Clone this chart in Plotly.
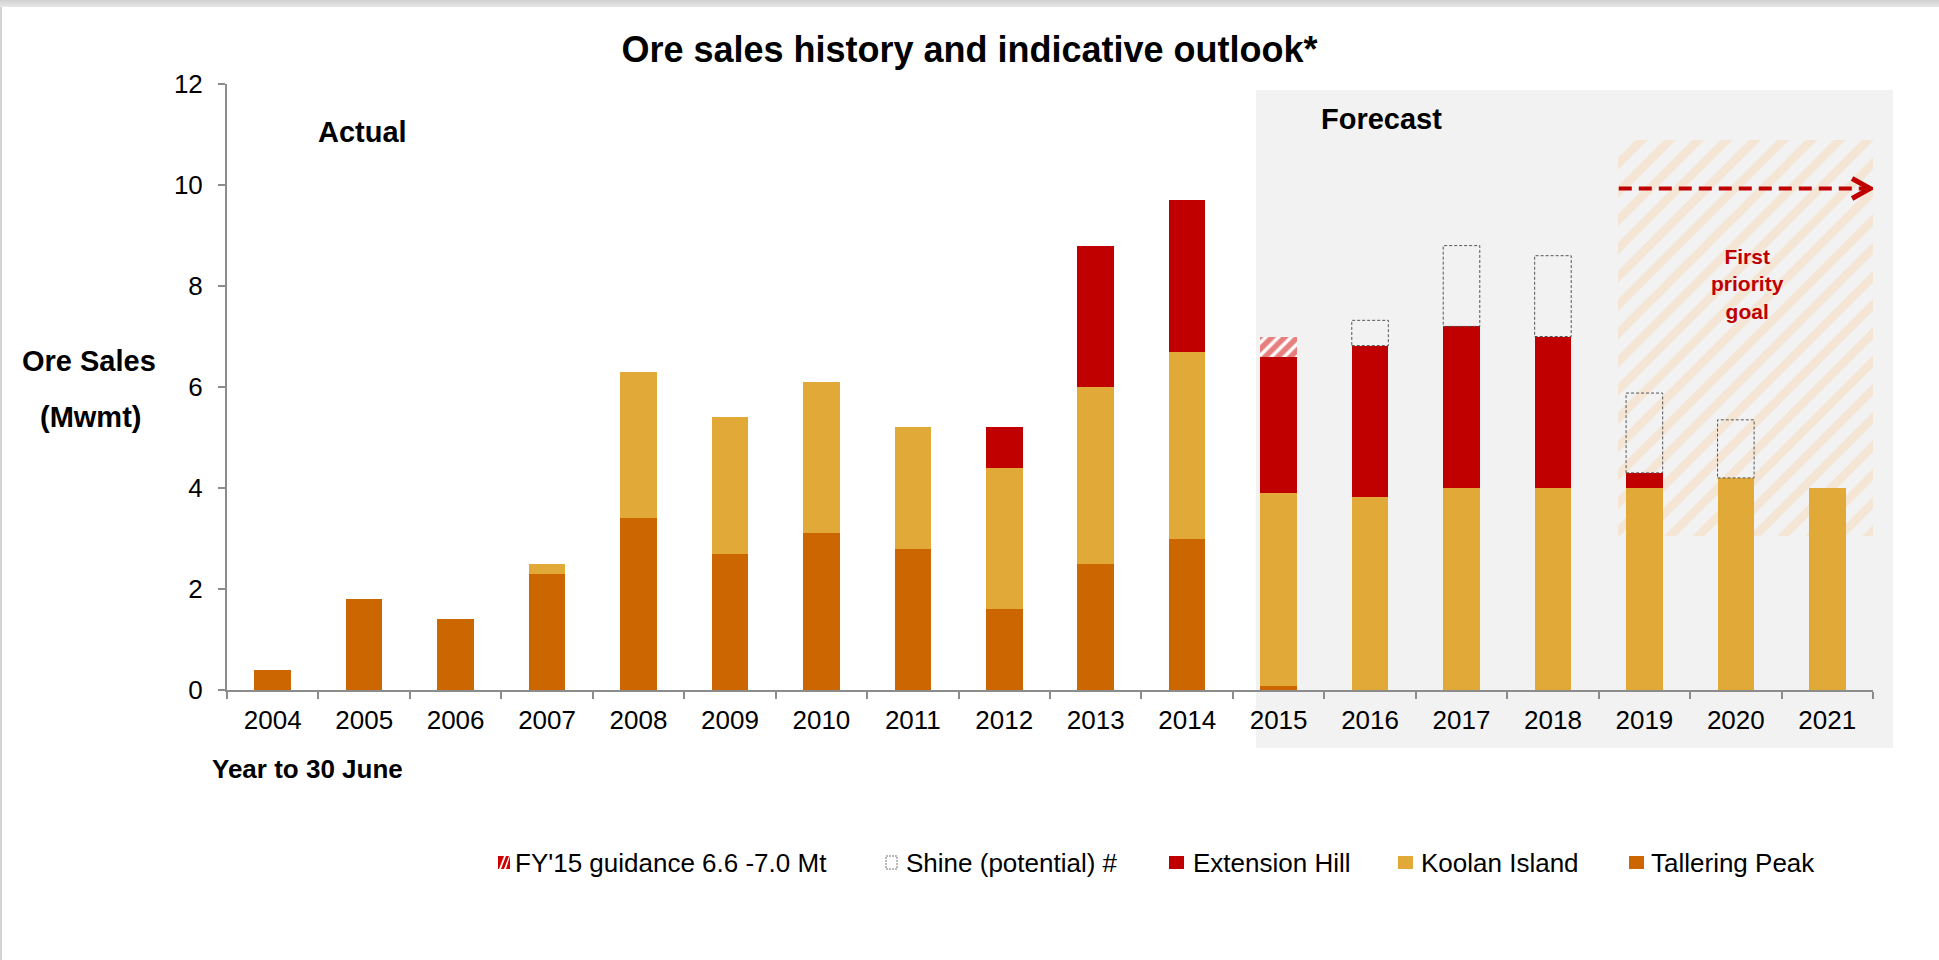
import plotly.graph_objects as go

# ---------------- data ----------------
years = ["2004", "2005", "2006", "2007", "2008", "2009", "2010", "2011", "2012",
         "2013", "2014", "2015", "2016", "2017", "2018", "2019", "2020", "2021"]
tallering_peak = [0.4, 1.8, 1.4, 2.3, 3.4, 2.7, 3.1, 2.8, 1.6, 2.5, 3.0, 0.08,
                  0, 0, 0, 0, 0, 0]
koolan_island = [0, 0, 0, 0.2, 2.9, 2.7, 3.0, 2.4, 2.8, 3.5, 3.7, 3.82,
                 3.82, 4.0, 4.0, 4.0, 4.2, 4.0]
extension_hill = [0, 0, 0, 0, 0, 0, 0, 0, 0.8, 2.8, 3.0, 2.7,
                  3.0, 3.2, 3.0, 0.3, 0, 0]
fy15_guidance = [0, 0, 0, 0, 0, 0, 0, 0, 0, 0, 0, 0.4,
                 0, 0, 0, 0, 0, 0]
shine_potential = [0, 0, 0, 0, 0, 0, 0, 0, 0, 0, 0, 0,
                   0.5, 1.6, 1.6, 1.58, 1.15, 0]

goal_band_low, goal_band_high = 3.04, 10.9       # "First priority goal" band (Mwmt)
goal_arrow_level = 9.93

# ---------------- styling ----------------
FONT = "Liberation Sans, Arial, sans-serif"
C_TALL = "#cc6600"
C_KOOL = "#e1a938"
C_EXT = "#c00000"
C_HATCH = "#f5d8b6"
W, H = 1939, 960
ML, MT, MR, MB = 227, 84, 66, 270
PW, PH = W - ML - MR, H - MT - MB


def px(x):
    return (x - ML) / PW


def py(y):
    return (MT + PH - y) / PH


def nz(v):
    return [a if a else None for a in v]


fig = go.Figure()

# goal band (hatched), drawn first so it sits behind the bars
fig.add_trace(go.Bar(
    x=["2020"], y=[goal_band_high - goal_band_low], base=[goal_band_low],
    width=[2.79], offset=[-1.29],
    marker=dict(color="rgba(0,0,0,0)", line=dict(width=0),
                pattern=dict(shape="/", fgcolor=C_HATCH, bgcolor="rgba(0,0,0,0)",
                             size=20, solidity=0.42)),
    hoverinfo="skip", showlegend=False))

fig.add_trace(go.Bar(name="Tallering Peak", x=years, y=nz(tallering_peak),
                     marker=dict(color=C_TALL, line=dict(width=0))))
fig.add_trace(go.Bar(name="Koolan Island", x=years, y=nz(koolan_island),
                     marker=dict(color=C_KOOL, line=dict(width=0))))
fig.add_trace(go.Bar(name="Extension Hill", x=years, y=nz(extension_hill),
                     marker=dict(color=C_EXT, line=dict(width=0))))
fig.add_trace(go.Bar(name="FY'15 guidance 6.6 -7.0 Mt", x=years, y=nz(fy15_guidance),
                     marker=dict(color="white", line=dict(width=0),
                                 pattern=dict(shape="/", fgcolor="#d00000", bgcolor="white",
                                              size=9, solidity=0.62))))
fig.add_trace(go.Bar(name="Shine (potential) #", x=years, y=nz(shine_potential),
                     marker=dict(color="rgba(0,0,0,0)", line=dict(width=0))))

shapes = []
# top slide shading and left border
shades = ["#d2d2d2", "#d6d6d6", "#d9d9d9", "#dcdcdc", "#dfdfdf", "#e2e2e2", "#e6e6e6"]
for i, c in enumerate(shades):
    shapes.append(dict(type="rect", xref="paper", yref="paper", layer="below",
                       x0=px(0), x1=px(W), y0=py(i), y1=py(i + 1),
                       fillcolor=c, line=dict(width=0)))
shapes.append(dict(type="rect", xref="paper", yref="paper", layer="below",
                   x0=px(0), x1=px(2), y0=py(7), y1=py(H),
                   fillcolor="#d4d4d4", line=dict(width=0)))
# forecast panel
shapes.append(dict(type="rect", xref="paper", yref="paper", layer="below",
                   x0=px(1256), x1=px(1893), y0=py(748), y1=py(90),
                   fillcolor="#f2f2f2", line=dict(width=0)))

# dashed outlines for Shine (potential)
for i, s in enumerate(shine_potential):
    if s:
        b = tallering_peak[i] + koolan_island[i] + extension_hill[i] + fy15_guidance[i]
        shapes.append(dict(type="rect", xref="x", yref="y", layer="above",
                           x0=i - 0.2, x1=i + 0.2, y0=b, y1=b + s,
                           fillcolor="rgba(0,0,0,0)",
                           line=dict(color="#555555", width=1, dash="3px,2px")))

# dashed goal arrow
shapes.append(dict(type="line", xref="x", yref="y", x0=14.72, x1=17.42,
                   y0=goal_arrow_level, y1=goal_arrow_level,
                   line=dict(color=C_EXT, width=4, dash="13px,7px")))
shapes.append(dict(type="path", xref="x", yref="y", xsizemode="pixel", ysizemode="pixel",
                   xanchor=17.49, yanchor=goal_arrow_level,
                   path="M-20,10 L-2,0 L-20,-10",
                   line=dict(color=C_EXT, width=5)))

# manual legend
leg_y0, leg_y1 = 856, 869
legend_items = [
    ("FY'15 guidance 6.6 -7.0 Mt", 498, 510, 513, "hatch"),
    ("Shine (potential) #", 886, 897, 904, "shine"),
    ("Extension Hill", 1169, 1184, 1191, C_EXT),
    ("Koolan Island", 1398, 1413, 1419, C_KOOL),
    ("Tallering Peak", 1629, 1644, 1649, C_TALL),
]
annotations = []
for name, a, b, t, kind in legend_items:
    if kind == "hatch":
        shapes.append(dict(type="rect", xref="paper", yref="paper",
                           x0=px(a), x1=px(b), y0=py(leg_y1), y1=py(leg_y0),
                           fillcolor="#d00000", line=dict(width=0)))
        # white diagonal stripes
        for (sx, ex) in [(a + 1, a + 3), (a + 6, a + 8)]:
            shapes.append(dict(type="path", xref="paper", yref="paper",
                               path=(f"M{px(sx)},{py(leg_y1)} "
                                     f"L{px(ex)},{py(leg_y1)} "
                                     f"L{px(min(ex + 5, b))},{py(leg_y0)} "
                                     f"L{px(min(sx + 5, b))},{py(leg_y0)} Z"),
                               fillcolor="white", line=dict(width=0)))
    elif kind == "shine":
        shapes.append(dict(type="rect", xref="paper", yref="paper",
                           x0=px(a), x1=px(b), y0=py(leg_y1), y1=py(leg_y0),
                           fillcolor="white", line=dict(color="#777777", width=1, dash="2px,1px")))
    else:
        shapes.append(dict(type="rect", xref="paper", yref="paper",
                           x0=px(a), x1=px(b), y0=py(leg_y1), y1=py(leg_y0),
                           fillcolor=kind, line=dict(width=0)))
    annotations.append(dict(xref="paper", yref="paper", x=px(t), y=py(863),
                            xanchor="left", yanchor="middle", showarrow=False,
                            text=name, font=dict(size=26, color="black", family=FONT)))


def label(text, x, y, size, color="black", xanchor="center"):
    annotations.append(dict(xref="paper", yref="paper", x=px(x), y=py(y),
                            xanchor=xanchor, yanchor="middle", showarrow=False,
                            text=text, font=dict(size=size, color=color, family=FONT)))


label("<b>Actual</b>", 362, 132, 29)
label("<b>Forecast</b>", 1381, 119, 29)
label("<b>Ore Sales</b>", 89, 361, 29)
label("<b>(Mwmt)</b>", 90, 417, 29)
label("<b>Year to 30 June</b>", 210, 769, 26, xanchor="left")
label("<b>First<br>priority<br>goal</b>", 1747, 284, 21, color=C_EXT)

fig.update_layout(
    width=W, height=H,
    margin=dict(l=ML, r=MR, t=MT, b=MB),
    paper_bgcolor="white", plot_bgcolor="rgba(0,0,0,0)",
    barmode="stack", bargap=0.6,
    showlegend=False,
    font=dict(family=FONT, size=26, color="black"),
    title=dict(text="<b>Ore sales history and indicative outlook*</b>",
               x=0.5, xref="container", xanchor="center",
               y=1 - 49 / H, yref="container", yanchor="middle",
               font=dict(size=36, color="black", family=FONT)),
    shapes=shapes, annotations=annotations,
)
fig.update_xaxes(type="category", categoryorder="array", categoryarray=years,
                 range=[-0.5, 17.5], tickson="boundaries",
                 ticks="outside", ticklen=7, tickwidth=2, tickcolor="#8c8c8c",
                 showline=True, linecolor="#8c8c8c", linewidth=2,
                 showgrid=False, zeroline=False, ticklabelstandoff=6,
                 tickfont=dict(size=26, color="black", family=FONT))
fig.update_yaxes(range=[0, 12], dtick=2, ticks="outside", ticklen=7, tickwidth=2,
                 tickcolor="#8c8c8c", showline=True, linecolor="#8c8c8c", linewidth=2,
                 showgrid=False, zeroline=False, ticklabelstandoff=10,
                 tickfont=dict(size=26, color="black", family=FONT))

fig.write_html("out.html", config={"displayModeBar": False},
               post_script="document.body.style.margin='0';")
